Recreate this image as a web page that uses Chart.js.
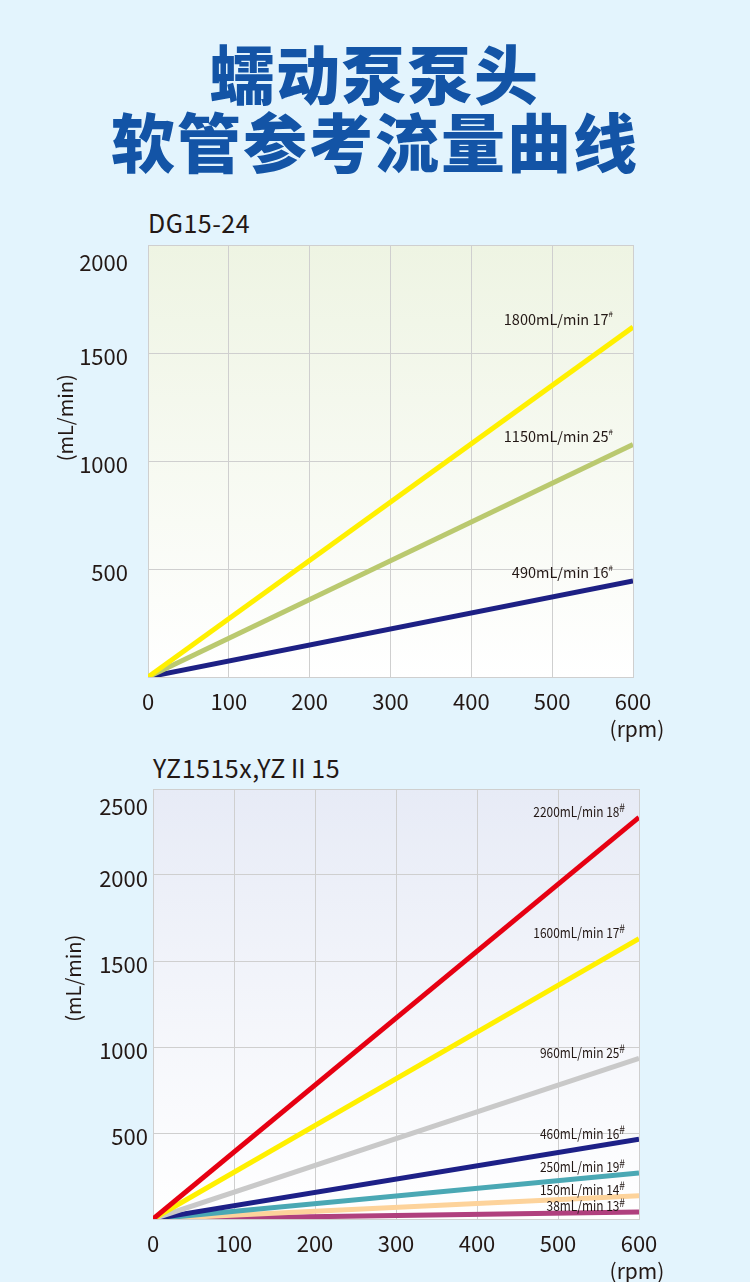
<!DOCTYPE html>
<html>
<head>
<meta charset="utf-8">
<script src="https://cdn.jsdelivr.net/npm/chart.js@4.4.1/dist/chart.umd.min.js"></script>
<style>
body { margin:0; width:750px; height:1282px; overflow:hidden; position:relative; background:#e3f4fd; font-family:"Noto Sans CJK SC", sans-serif; }
h1 { position:absolute; top:37px; left:0; width:750px; margin:0; text-align:center; font-size:64px; line-height:68px; color:#1354a6; font-weight:900; letter-spacing:2px; }
.ct { position:absolute; font-size:25px; line-height:30px; color:#231815; letter-spacing:0.5px; }
canvas { position:absolute; left:0; }
</style>
</head>
<body>
<h1>蠕动泵泵头<br>软管参考流量曲线</h1>
<div class="ct" style="left:148px;top:207px;">DG15-24</div>
<div class="ct" style="left:153px;top:752px;">YZ1515x,YZⅡ15</div>
<canvas id="chartDG" width="750" height="520" style="top:230px"></canvas>
<canvas id="chartYZ" width="750" height="507" style="top:775px"></canvas>
<script>
// rpm points, both charts
const rpm = [0, 600];

// DG15-24
const dgRated = ['1800mL/min 17', '1150mL/min 25', '490mL/min 16'];
const dgTube17 = [0, 1620];
const dgTube25 = [0, 1076];
const dgTube16 = [0, 445];
const dgColors = ['#fff000', '#bac96f', '#1d2084'];
const dgYTicks = [500, 1000, 1500, 2000];

// YZ1515x, YZII15
const yzRated = ['2200mL/min 18', '1600mL/min 17', '960mL/min 25', '460mL/min 16', '250mL/min 19', '150mL/min 14', '38mL/min 13'];
const yzTube18 = [0, 2335];
const yzTube17 = [0, 1630];
const yzTube25 = [0, 934];
const yzTube16 = [0, 464];
const yzTube19 = [0, 267];
const yzTube14 = [0, 135];
const yzTube13 = [0, 40];
const yzColors = ['#e60012', '#fff000', '#c9c9c9', '#1d2087', '#4aa8b4', '#fdd39b', '#b0407e'];
const yzYTicks = [500, 1000, 1500, 2000, 2500];

const xTicks = [0, 100, 200, 300, 400, 500, 600];
const inkColor = '#231815';
const gridColor = '#cfcfcf';

function toPoints(values) {
	return values.map(function (v, i) { return { x: rpm[i], y: v }; });
}

// gradient behind the plot area
const plotBg = {
	id: 'plotBg',
	beforeDraw: function (chart, args, opts) {
		const a = chart.chartArea;
		const ctx = chart.ctx;
		const g = ctx.createLinearGradient(0, a.top, 0, a.bottom);
		g.addColorStop(0, opts.top);
		g.addColorStop(1, '#ffffff');
		ctx.save();
		ctx.fillStyle = g;
		ctx.fillRect(a.left, a.top, a.right - a.left, a.bottom - a.top);
		ctx.restore();
	}
};

// end-of-line labels, axis units
const extraText = {
	id: 'extraText',
	afterDatasetsDraw: function (chart, args, opts) {
		const a = chart.chartArea;
		const ctx = chart.ctx;
		ctx.save();
		ctx.fillStyle = inkColor;
		ctx.textBaseline = 'middle';
		ctx.textAlign = 'right';
		chart.data.datasets.forEach(function (ds, i) {
			const meta = chart.getDatasetMeta(i);
			const last = meta.data[meta.data.length - 1];
			const x = a.right - opts.rightInset;
			const y = last.y + opts.dy;
			ctx.save();
			ctx.scale(opts.squeeze, 1);
			ctx.font = opts.hashFont;
			const hw = ctx.measureText('#').width;
			ctx.fillText('#', x / opts.squeeze, y - opts.hashRaise);
			ctx.font = opts.labelFont;
			ctx.fillText(ds.label, x / opts.squeeze - hw, y);
			ctx.restore();
		});
		ctx.font = '21px "Noto Sans CJK SC"';
		ctx.textAlign = 'center';
		ctx.fillText('(rpm)', a.right + opts.rpmDx, a.bottom + 52);
		ctx.translate(a.left - opts.unitDx, a.top + (a.bottom - a.top) * opts.unitPos);
		ctx.rotate(-Math.PI / 2);
		ctx.font = '20px "Noto Sans CJK SC"';
		ctx.fillText('(mL/min)', 0, 0);
		ctx.restore();
	}
};

function ch_chart_Flow(container, series, labels, colors, yMax, yTicks, cfg) {
	const datasets = series.map(function (s, i) {
		return {
			label: labels[i],
			data: toPoints(s),
			borderColor: colors[i],
			borderWidth: 5,
			pointRadius: 0,
			borderCapStyle: 'butt',
			tension: 0
		};
	});
	const ctx = document.getElementById(container).getContext('2d');
	let chart = null;
	chart = new Chart(ctx, {
		type: 'line',
		data: { datasets: datasets },
		options: {
			responsive: false,
			animation: false,
			devicePixelRatio: 1,
			layout: { padding: cfg.padding },
			plugins: {
				legend: { display: false },
				tooltip: { enabled: false },
				plotBg: { top: cfg.bgTop },
				extraText: cfg.text
			},
			scales: {
				x: {
					type: 'linear',
					min: 0,
					max: 600,
					afterBuildTicks: function (s) { s.ticks = xTicks.map(function (v) { return { value: v }; }); },
					afterFit: function (s) { s.height = cfg.xHeight; s.paddingLeft = 0; s.paddingRight = 0; },
					ticks: { font: { family: 'Noto Sans CJK SC', size: 22 }, color: inkColor, padding: 11 },
					grid: { color: gridColor, drawTicks: false },
					border: { color: gridColor }
				},
				y: {
					type: 'linear',
					min: 0,
					max: yMax,
					afterBuildTicks: function (s) { s.ticks = [0].concat(yTicks).map(function (v) { return { value: v }; }); },
					afterFit: function (s) { s.width = cfg.yWidth; s.paddingTop = 0; s.paddingBottom = 0; },
					ticks: {
						font: { family: 'Noto Sans CJK SC', size: 22 },
						color: inkColor,
						padding: cfg.yPad,
						labelOffset: 4,
						callback: function (v) {
							if (v === 0) return '';
							// top label sits below the frame line
							return v === yMax ? ['', String(v)] : String(v);
						}
					},
					grid: { color: gridColor, drawTicks: false },
					border: { color: gridColor }
				}
			}
		},
		plugins: [plotBg, extraText]
	});
	return chart;
}

ch_chart_Flow('chartDG', [dgTube17, dgTube25, dgTube16], dgRated, dgColors, 2000, dgYTicks, {
	padding: { top: 15, right: 117, bottom: 23, left: 0 },
	xHeight: 50,
	yWidth: 148,
	yPad: 20,
	bgTop: '#eef4e3',
	text: {
		rightInset: 20, dy: -8, hashRaise: 5, squeeze: 1,
		labelFont: '14.5px "Noto Sans CJK SC"', hashFont: '8px "Noto Sans CJK SC"',
		rpmDx: 4, unitDx: 83, unitPos: 0.4
	}
});

ch_chart_Flow('chartYZ', [yzTube18, yzTube17, yzTube25, yzTube16, yzTube19, yzTube14, yzTube13], yzRated, yzColors, 2500, yzYTicks, {
	padding: { top: 14, right: 111, bottom: 23, left: 0 },
	xHeight: 40,
	yWidth: 153,
	yPad: 5,
	bgTop: '#e7ebf6',
	text: {
		rightInset: 14, dy: -6, hashRaise: 4, squeeze: 0.85,
		labelFont: '14px "Noto Sans CJK SC"', hashFont: '12px "Noto Sans CJK SC"',
		rpmDx: -2, unitDx: 80, unitPos: 0.44
	}
});
</script>
</body>
</html>
